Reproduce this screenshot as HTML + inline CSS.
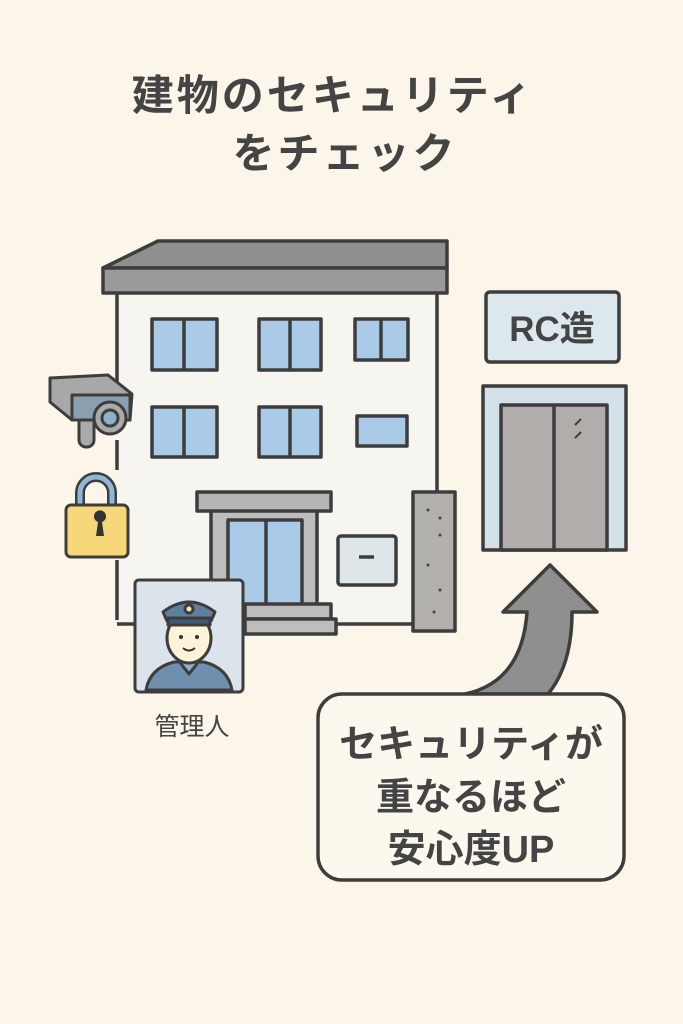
<!DOCTYPE html>
<html><head><meta charset="utf-8"><style>
html,body{margin:0;padding:0;background:#fcf6ea;}
svg{display:block}
text{font-family:"Liberation Sans","Noto Sans CJK JP",sans-serif;fill:#444;font-weight:bold}
</style></head><body>
<svg width="683" height="1024" viewBox="0 0 683 1024" xmlns="http://www.w3.org/2000/svg">
<rect width="683" height="1024" fill="#fcf6ea"/>
<text x="333" y="110" font-size="42" text-anchor="middle" letter-spacing="3">建物のセキュリティ</text>
<text x="345" y="168" font-size="42" text-anchor="middle" letter-spacing="3">をチェック</text>
<g stroke="#3d3d3d" stroke-width="3.5" stroke-linejoin="round">
<rect x="117" y="292" width="320" height="332" fill="#f7f5f0" stroke="none"/>
<path d="M117 292 V410 M117 440 V470 M117 560 V620 M117 624 H140 M330 624 H437 V292" fill="none"/>
<polygon points="103,268 158,241 447,241 447,268" fill="#8f8f8f"/>
<rect x="103" y="268" width="344" height="25" fill="#9a9a9a"/>
<g fill="#a9cbe8">
<rect x="152" y="319" width="65" height="51"/><line x1="184" y1="319" x2="184" y2="370"/>
<rect x="259" y="319" width="62" height="51"/><line x1="290" y1="319" x2="290" y2="370"/>
<rect x="355" y="319" width="53" height="41"/><line x1="381" y1="319" x2="381" y2="360"/>
<rect x="152" y="407" width="65" height="50"/><line x1="184" y1="407" x2="184" y2="457"/>
<rect x="259" y="407" width="62" height="50"/><line x1="290" y1="407" x2="290" y2="457"/>
<rect x="357" y="416" width="50" height="30"/>
</g>
<rect x="211" y="510" width="106" height="100" fill="#bdbdbd"/>
<rect x="228" y="520" width="74" height="86" fill="#a9cbe8"/><line x1="266" y1="520" x2="266" y2="606"/>
<rect x="197" y="492" width="134" height="19" fill="#b5b5b5"/>
<rect x="245" y="604" width="86" height="15" fill="#bdbdbd"/>
<rect x="245" y="619" width="91" height="15" fill="#bdbdbd"/>
<rect x="338" y="536" width="58" height="49" rx="3" fill="#dfe6ea"/>
<line x1="359" y1="557" x2="374" y2="557"/>
<rect x="413" y="492" width="42" height="139" fill="#b3b1ae"/>
</g>
<g fill="#444"><circle cx="428" cy="510" r="1.5"/><circle cx="440" cy="518" r="1.5"/><circle cx="440" cy="535" r="1.5"/><circle cx="428" cy="565" r="1.5"/><circle cx="440" cy="590" r="1.5"/><circle cx="434" cy="612" r="1.5"/></g>
<g stroke="#3d3d3d" stroke-width="3" stroke-linejoin="round">
<rect x="79" y="415" width="15" height="32" rx="7" fill="#aaa"/>
<polygon points="50,378 108,375 132,394 130,420 72,420 50,402" fill="#a8a8a8"/>
<rect x="72" y="395" width="58" height="25" fill="#8aa0b0"/>
<circle cx="110" cy="418" r="16" fill="#aaa"/><circle cx="110" cy="418" r="8" fill="#8fb0c8"/>
<path d="M80 508 V493 a16 16 0 0 1 32 0 V508" fill="none" stroke="#3d3d3d" stroke-width="10"/>
<path d="M80 508 V493 a16 16 0 0 1 32 0 V508" fill="none" stroke="#8fb8d8" stroke-width="5"/>
<rect x="66" y="505" width="62" height="52" rx="5" fill="#f6d77a"/>
</g>
<path d="M98 522 a6 6 0 1 1 4 0 l2 14 h-8z" fill="#333"/>
<g stroke="#3d3d3d" stroke-width="3" stroke-linejoin="round">
<rect x="135" y="580" width="108" height="112" rx="4" fill="#dbe4ea"/>
<path d="M146 690 q4 -22 28 -28 h30 q24 6 28 28z" fill="#6f8fae"/>
<path d="M178 660 l11 14 l11 -14" fill="#8fb0c8"/>
<ellipse cx="189" cy="638" rx="22" ry="25" fill="#fdf3d8"/>
<path d="M163 612 q26 -20 52 0 l-4 9 h-44z" fill="#5f7f9e"/>
<rect x="168" y="618" width="42" height="7" fill="#3f5a74"/>
<circle cx="189" cy="609" r="4" fill="#f6e9b8"/>
</g>
<circle cx="181" cy="637" r="2" fill="#333"/><circle cx="197" cy="637" r="2" fill="#333"/>
<path d="M183 648 q6 5 12 0" stroke="#333" stroke-width="2" fill="none"/>
<text x="192" y="735" font-size="25" text-anchor="middle" style="font-weight:normal">管理人</text>
<g stroke="#3d3d3d" stroke-width="3.5" stroke-linejoin="round">
<rect x="486" y="292" width="133" height="70" rx="4" fill="#dde8ee"/>
<rect x="483" y="386" width="143" height="164" fill="#d5e1e8"/>
<rect x="501" y="405" width="106" height="145" fill="#b1adaa"/>
<line x1="554" y1="405" x2="554" y2="550"/>
<path d="M575 425 l6 -6 M575 438 l6 -6" stroke-width="2"/>
<path d="M465 694 Q522 682 527 612 H503 L550 565 L597 612 H572 Q572 665 548 694 Z" fill="#8f8f8f"/>
<rect x="318" y="694" width="306" height="186" rx="24" fill="#fcf8ee"/>
</g>
<text x="552" y="341" font-size="35" text-anchor="middle" style="font-weight:600">RC造</text>
<text x="471" y="757" font-size="38" text-anchor="middle" style="font-weight:600">セキュリティが</text>
<text x="471" y="810" font-size="38" text-anchor="middle" style="font-weight:600">重なるほど</text>
<text x="471" y="862" font-size="38" text-anchor="middle" style="font-weight:600">安心度UP</text>
</svg>
</body></html>
